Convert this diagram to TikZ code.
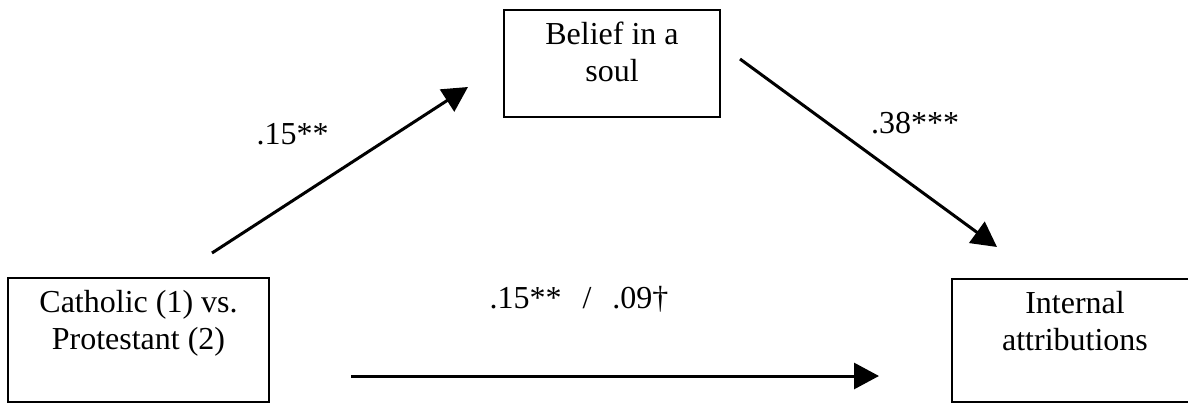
\documentclass[tikz,border=0pt]{standalone}
\usepackage{fontspec}
\setmainfont{Liberation Serif}
\usetikzlibrary{arrows.meta}
\begin{document}
\begin{tikzpicture}[x=1pt,y=-1pt,
  box/.style={draw, line width=2pt, inner sep=0pt},
  boxtext/.style={anchor=north, inner sep=0pt, align=center, yshift=-13pt,
    font=\fontsize{32}{37}\selectfont},
  coef/.style={anchor=base, inner sep=0pt, font=\fontsize{32}{37}\selectfont},
  path/.style={line width=3pt, -{Triangle[length=25pt,width=26pt]}}]
\useasboundingbox (0,0) rectangle (1188,403);
\clip (0,0) rectangle (1188,403);
% boxes
\node[box, minimum width=261pt, minimum height=123.7pt] (cath) at (138.5,340) {};
\node[box, minimum width=216pt, minimum height=107pt] (soul) at (612,63.5) {};
\node[box, minimum width=246pt, minimum height=123pt] (attr) at (1075,340.5) {};
% box texts
\node[boxtext] (cathtxt) at (cath.north) {Catholic (1) vs.\\Protestant (2)};
\node[boxtext] (soultxt) at (soul.north) {Belief in a\\soul};
\node[boxtext] (attrtxt) at (attr.north) {Internal\\attributions};
% connector end points
\coordinate (a1) at (212,253);
\coordinate (a2) at (468,87);
\coordinate (b1) at (740,59);
\coordinate (b2) at (997,247);
\coordinate (c1) at (351,376);
\coordinate (c2) at (879,376);
\draw[path] (a1) -- (a2);
\draw[path] (b1) -- (b2);
\draw[path] (c1) -- (c2);
% coefficients
\node[coef] (ca) at (292.5,145) {.15**};
\node[coef] (cb) at (915,134) {.38***};
\node[coef] (cc) at (579,308) {.15**\hspace{21pt}/\hspace{21pt}.09†};
\end{tikzpicture}
\end{document}
